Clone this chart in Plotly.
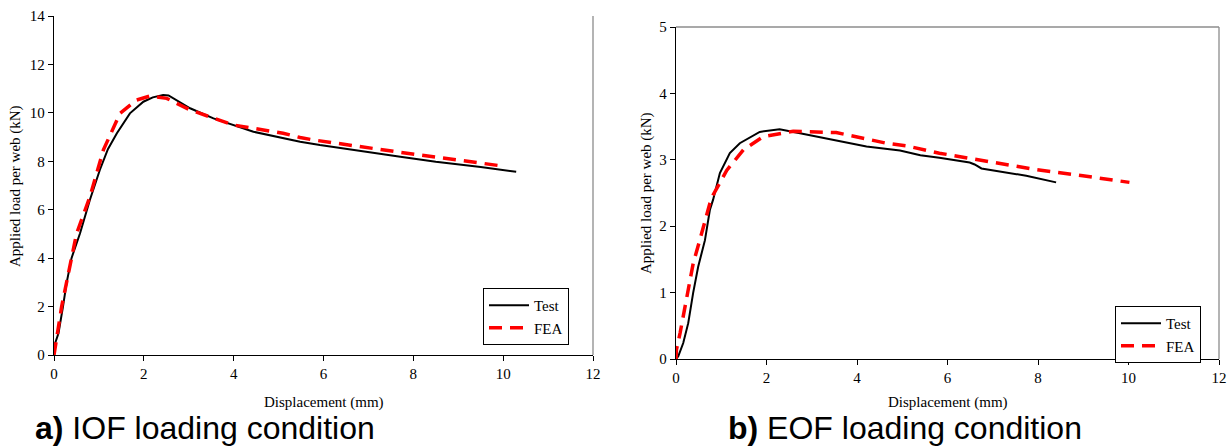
import plotly.graph_objects as go

# ---- Data: (a) IOF loading condition ----
iof_test_x = [0, 0.1, 0.2, 0.28, 0.39, 0.58, 0.8, 1.02, 1.2, 1.4, 1.69, 1.99, 2.2, 2.43, 2.55,
              2.66, 2.85, 3.03, 3.55, 4.44, 5.48, 5.92, 7.71, 8.5, 9.5, 10.29]
iof_test_y = [0.35, 0.9, 2.0, 2.97, 4.0, 5.03, 6.41, 7.64, 8.5, 9.16, 9.98, 10.46, 10.64, 10.74, 10.72,
              10.6, 10.4, 10.19, 9.77, 9.22, 8.81, 8.67, 8.19, 7.98, 7.76, 7.57]
iof_fea_x = [0, 0.17, 0.5, 0.8, 1.1, 1.47, 1.84, 2.14, 2.51, 3.03, 3.99, 5.1, 5.48, 5.78, 7.71, 10.0]
iof_fea_y = [0, 2.0, 5.0, 6.54, 8.47, 9.98, 10.53, 10.7, 10.6, 10.12, 9.5, 9.16, 8.98, 8.88, 8.37, 7.8]

# ---- Data: (b) EOF loading condition ----
eof_test_x = [0, 0.05, 0.16, 0.27, 0.38, 0.49, 0.64, 0.75, 0.82, 0.97, 1.19, 1.41, 1.85, 2.29, 2.74,
              3.47, 4.21, 4.95, 5.4, 5.82, 6.49, 6.6, 6.75, 7.74, 8.4]
eof_test_y = [0, 0.04, 0.24, 0.54, 1.0, 1.39, 1.79, 2.25, 2.4, 2.8, 3.1, 3.25, 3.42, 3.46, 3.40,
              3.30, 3.20, 3.14, 3.07, 3.03, 2.96, 2.93, 2.87, 2.76, 2.66]
eof_fea_x = [0, 0.01, 0.09, 0.24, 0.38, 0.57, 0.75, 0.82, 1.12, 1.49, 1.93, 2.59, 3.54, 4.65, 5.09,
             5.82, 7.89, 8.99, 10.02]
eof_fea_y = [0, 0.14, 0.39, 0.94, 1.44, 1.9, 2.35, 2.47, 2.84, 3.15, 3.35, 3.43, 3.41, 3.25, 3.21,
             3.10, 2.86, 2.76, 2.66]

x_ticks = [0, 2, 4, 6, 8, 10, 12]
iof_y_ticks = [0, 2, 4, 6, 8, 10, 12, 14]
eof_y_ticks = [0, 1, 2, 3, 4, 5]

x_title = "Displacement (mm)"
y_title = "Applied load per web (kN)"
captions = ["<b>a)</b> IOF loading condition", "<b>b)</b> EOF loading condition"]

W, H = 1230, 448
SERIF = "Liberation Serif, Times New Roman, serif"
SANS = "Liberation Sans, Arial, sans-serif"

test_line = dict(color="black", width=2)
fea_line = dict(color="#ff0000", width=3.5, dash="13px,8px")

fig = go.Figure()
fig.add_trace(go.Scatter(x=iof_test_x, y=iof_test_y, mode="lines", name="Test", line=test_line,
                         xaxis="x", yaxis="y", legend="legend"))
fig.add_trace(go.Scatter(x=iof_fea_x, y=iof_fea_y, mode="lines", name="FEA", line=fea_line,
                         xaxis="x", yaxis="y", legend="legend"))
fig.add_trace(go.Scatter(x=eof_test_x, y=eof_test_y, mode="lines", name="Test", line=test_line,
                         xaxis="x2", yaxis="y2", legend="legend2"))
fig.add_trace(go.Scatter(x=eof_fea_x, y=eof_fea_y, mode="lines", name="FEA", line=fea_line,
                         xaxis="x2", yaxis="y2", legend="legend2"))

def px_x(p):
    return p / W

def px_y(p):
    return (H - p) / H

axis_common = dict(showline=True, linecolor="black", linewidth=1.3, ticks="outside", ticklen=5,
                   tickcolor="black", tickwidth=1, showgrid=False, zeroline=False, automargin=False,
                   tickfont=dict(family=SERIF, size=15, color="black"))

legend_common = dict(font=dict(family=SERIF, size=15, color="black"), bordercolor="black",
                     borderwidth=1, bgcolor="white", xanchor="left", yanchor="top",
                     tracegroupgap=0, itemwidth=40, entrywidth=75)

fig.update_layout(
    width=W, height=H, margin=dict(l=0, r=0, t=0, b=0, autoexpand=False),
    paper_bgcolor="white", plot_bgcolor="white",
    xaxis=dict(domain=[px_x(54), px_x(593)], range=[0, 12], tickvals=x_ticks, anchor="y", **axis_common),
    yaxis=dict(domain=[px_y(355), px_y(16)], range=[0, 14], tickvals=iof_y_ticks, anchor="x", **axis_common),
    xaxis2=dict(domain=[px_x(676), px_x(1219)], range=[0, 12], tickvals=x_ticks, anchor="y2", **axis_common),
    yaxis2=dict(domain=[px_y(359), px_y(27)], range=[0, 5], tickvals=eof_y_ticks, anchor="x2", **axis_common),
    legend=dict(x=px_x(483), y=px_y(288), **legend_common),
    legend2=dict(x=px_x(1115), y=px_y(306), **legend_common),
    showlegend=True,
)

# gray plot-area borders
fig.add_shape(type="line", xref="x domain", yref="y domain", x0=1, x1=1, y0=0, y1=1,
              line=dict(color="#8c8c8c", width=1.3))
fig.add_shape(type="line", xref="x2 domain", yref="y2 domain", x0=1, x1=1, y0=0, y1=1,
              line=dict(color="#8c8c8c", width=1.3))
fig.add_shape(type="line", xref="x2 domain", yref="y2 domain", x0=0, x1=1, y0=1, y1=1,
              line=dict(color="#8c8c8c", width=1.3))

# axis titles
tfont = dict(family=SERIF, size=15, color="black")
fig.add_annotation(text=x_title, x=px_x(324), y=px_y(402), xref="paper", yref="paper",
                   showarrow=False, font=tfont, xanchor="center", yanchor="middle")
fig.add_annotation(text=x_title, x=px_x(948), y=px_y(402), xref="paper", yref="paper",
                   showarrow=False, font=tfont, xanchor="center", yanchor="middle")
fig.add_annotation(text=y_title, x=px_x(15), y=px_y(186), xref="paper", yref="paper",
                   showarrow=False, font=tfont, textangle=-90, xanchor="center", yanchor="middle")
fig.add_annotation(text=y_title, x=px_x(646), y=px_y(193), xref="paper", yref="paper",
                   showarrow=False, font=tfont, textangle=-90, xanchor="center", yanchor="middle")

# captions
cfont = dict(family=SANS, size=32, color="black")
fig.add_annotation(text=captions[0], x=px_x(33), y=px_y(428), xref="paper", yref="paper",
                   showarrow=False, font=cfont, xanchor="left", yanchor="middle")
fig.add_annotation(text=captions[1], x=px_x(726), y=px_y(428), xref="paper", yref="paper",
                   showarrow=False, font=cfont, xanchor="left", yanchor="middle")

fig.write_html("out.html", config={"displayModeBar": False},
               post_script="document.body.style.margin='0';")
